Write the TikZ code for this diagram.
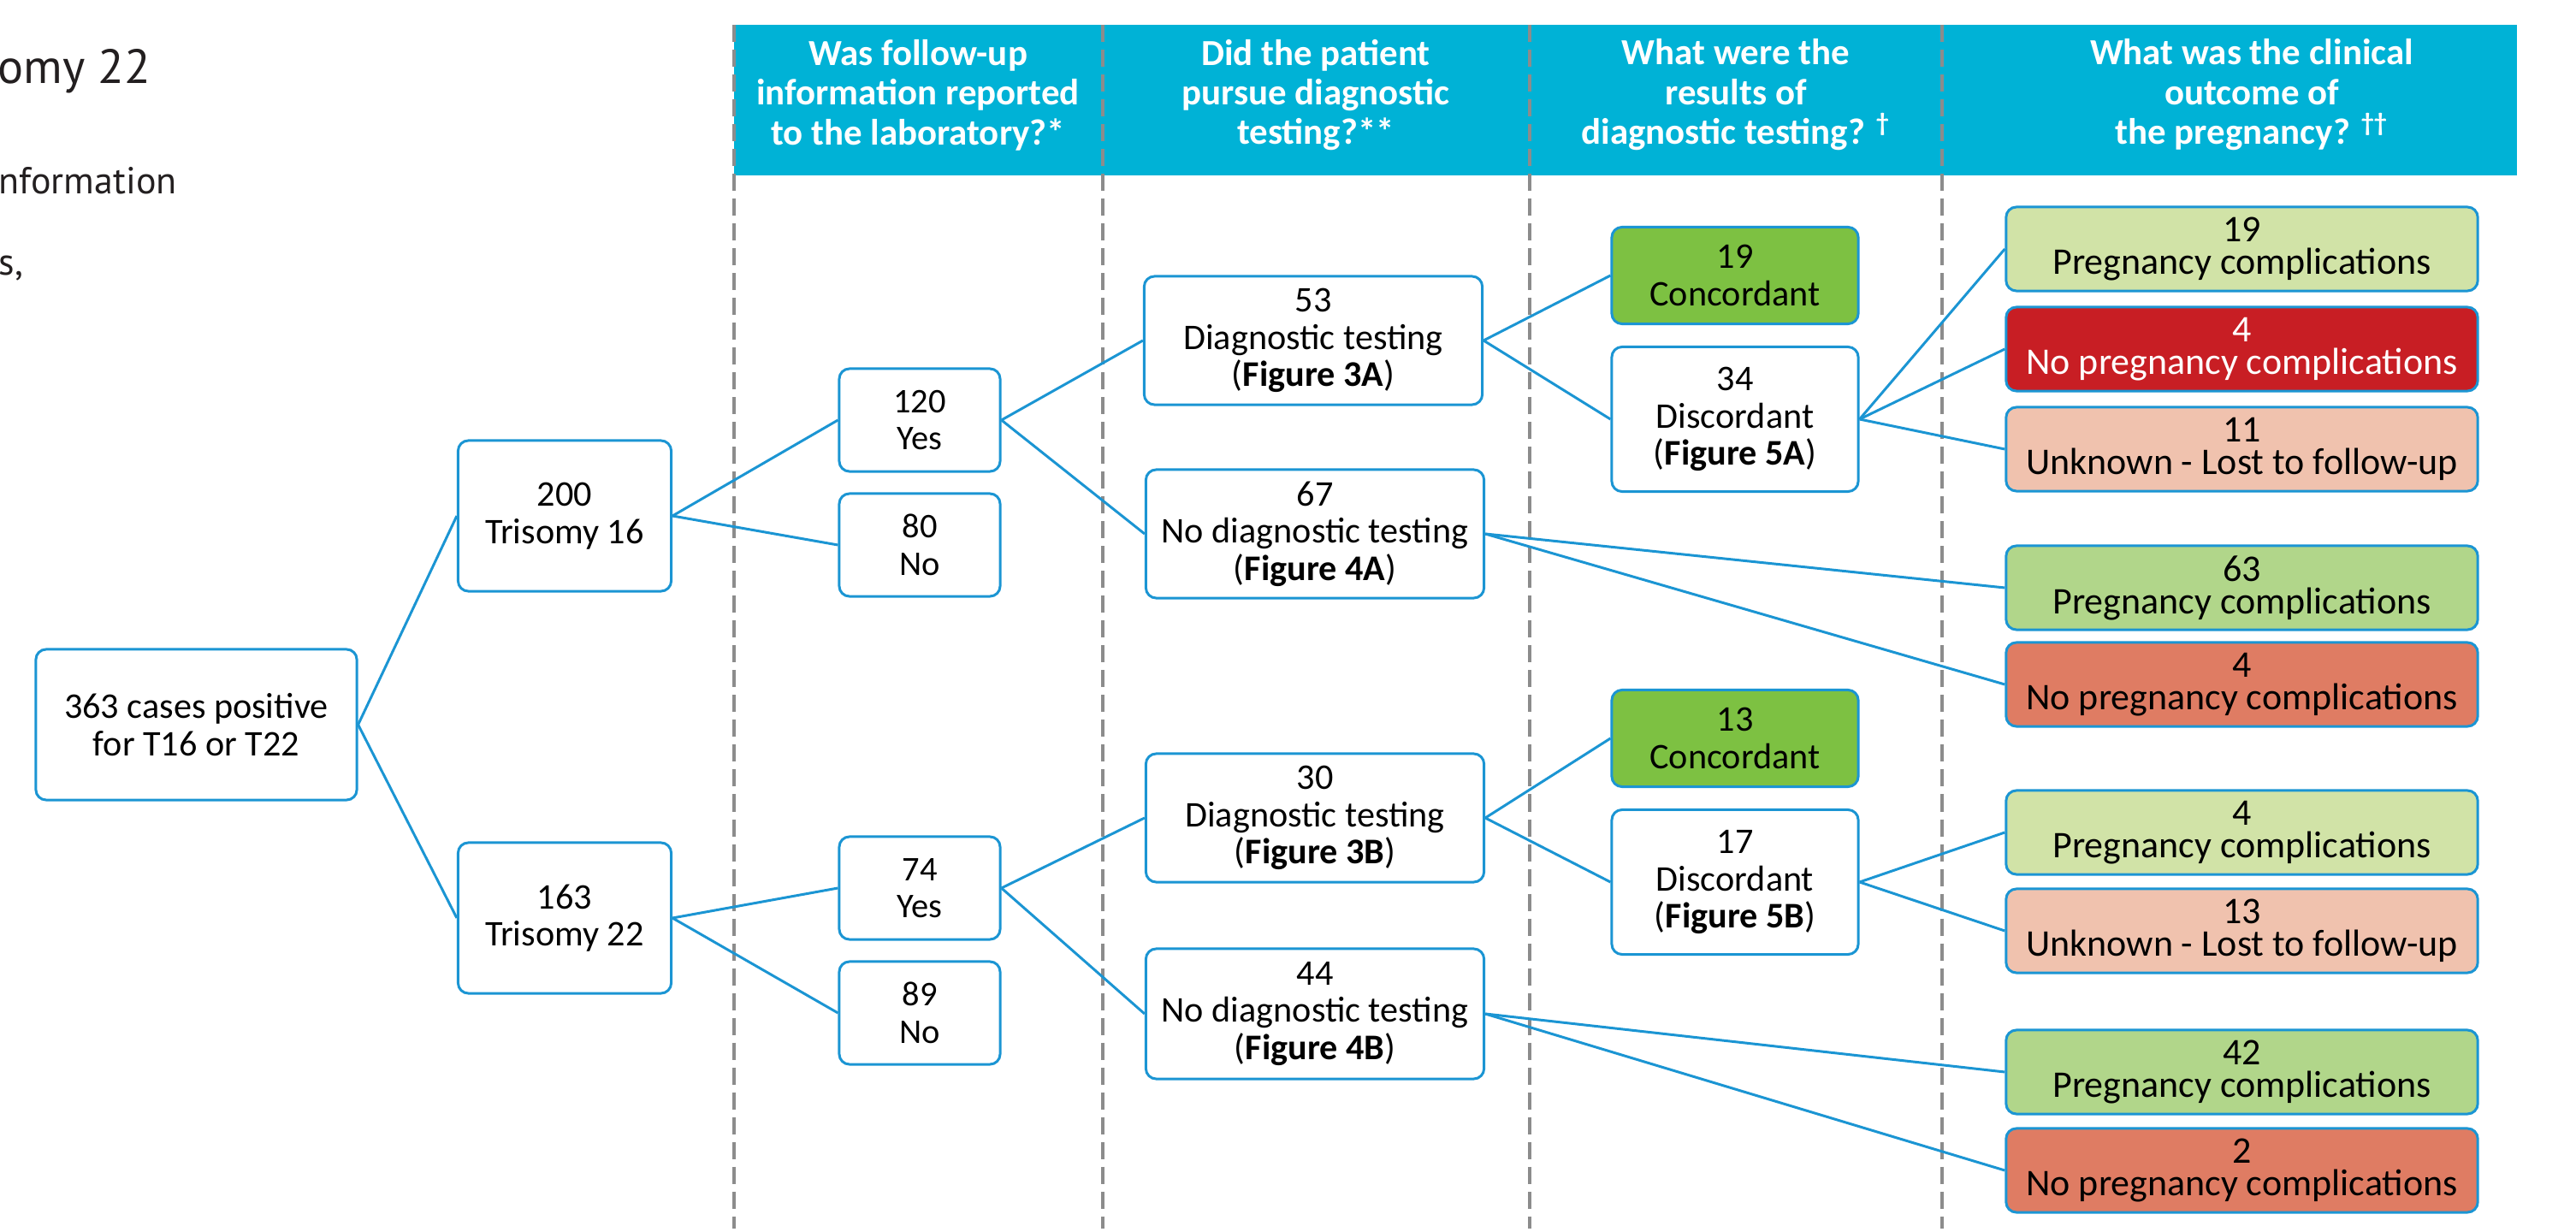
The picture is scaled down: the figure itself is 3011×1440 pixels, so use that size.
\documentclass[tikz,border=0pt]{standalone}
\usepackage{fontspec}
\setmainfont{Carlito}
\newfontfamily\titlefont{PT Sans}
\definecolor{headcyan}{RGB}{0,178,214}
\definecolor{boxblue}{RGB}{27,149,211}
\definecolor{sepgray}{RGB}{140,140,140}
\definecolor{titlegray}{RGB}{35,31,32}
\definecolor{concgreen}{RGB}{125,193,66}
\definecolor{palegreen}{RGB}{209,227,167}
\definecolor{midgreen}{RGB}{177,214,138}
\definecolor{darkred}{RGB}{200,30,36}
\definecolor{salmon}{RGB}{240,194,174}
\definecolor{brick}{RGB}{223,124,99}

\begin{document}
\begin{tikzpicture}[x=0.01cm,y=-0.01cm,
  box/.style={draw=boxblue,line width=0.85pt,rounded corners=1.2mm,fill=white,align=center,inner sep=0pt,font=\fontsize{12}{12.4}\selectfont},
  ynbox/.style={box,minimum width=1.88cm,minimum height=1.2cm,font=\fontsize{11.5}{12.4}\selectfont},
  outbox/.style={box,minimum width=5.51cm,minimum height=0.98cm,font=\fontsize{12.5}{10.8}\selectfont},
  link/.style={draw=boxblue,line width=0.85pt},
  colsep/.style={draw=sepgray,line width=0.9pt,dash pattern=on 0.2cm off 0.09cm},
  head/.style={text=white,align=center,font=\bfseries\fontsize{12.2}{13.2}\selectfont}]
\useasboundingbox (0,0) rectangle (3011,1440);
\fill[headcyan] (858,29) rectangle (2942,205);
\foreach \x in {858,1289,1788,2270}
  \draw[colsep] (\x,29) -- (\x,1436);

\node[anchor=base west,inner sep=0pt,text=titlegray,font=\titlefont\fontsize{16}{19}\selectfont] (ttl) at (-3,98) {omy 22};
\node[anchor=base west,inner sep=0pt,text=titlegray,font=\titlefont\fontsize{12.5}{15}\selectfont] (sub1) at (-2,227) {nformation};
\node[anchor=base west,inner sep=0pt,text=titlegray,font=\titlefont\fontsize{12.5}{15}\selectfont] (sub2) at (-2,322) {s,};

\node[head] (h1) at (1073,111) {Was follow-up\\information reported\\to the laboratory?*};
\node[head] (h2) at (1538,111) {Did the patient\\pursue diagnostic\\testing?**};
\node[head] (h3) at (2029,111) {What were the\\results of\\diagnostic testing? \textsuperscript{\textdagger}};
\node[head] (h4) at (2632,111) {What was the clinical\\outcome of\\the pregnancy? \textsuperscript{\textdagger\textdagger}};

\node[box,minimum width=3.75cm,minimum height=1.76cm] (root) at (229.5,847) {363 cases positive\\for T16 or T22};
\node[box,minimum width=2.49cm,minimum height=1.76cm] (t16) at (660,603) {200\\Trisomy 16};
\node[box,minimum width=2.49cm,minimum height=1.76cm] (t22) at (660,1073) {163\\Trisomy 22};

\node[ynbox] (yesA) at (1075,491) {120\\Yes};
\node[ynbox] (noA) at (1075,637) {80\\No};
\node[ynbox] (yesB) at (1075,1038) {74\\Yes};
\node[ynbox] (noB) at (1075,1184) {89\\No};

\node[box,minimum width=3.95cm,minimum height=1.5cm] (dtA) at (1535,398) {53\\Diagnostic testing\\(\textbf{Figure 3A})};
\node[box,minimum width=3.95cm,minimum height=1.5cm] (ndtA) at (1537,624) {67\\No diagnostic testing\\(\textbf{Figure 4A})};
\node[box,minimum width=3.95cm,minimum height=1.5cm] (dtB) at (1537,956) {30\\Diagnostic testing\\(\textbf{Figure 3B})};
\node[box,minimum width=3.95cm,minimum height=1.52cm] (ndtB) at (1537,1185) {44\\No diagnostic testing\\(\textbf{Figure 4B})};

\node[box,fill=concgreen,minimum width=2.88cm,minimum height=1.13cm] (concA) at (2028,322) {19\\Concordant};
\node[box,minimum width=2.88cm,minimum height=1.69cm] (discA) at (2028,490) {34\\Discordant\\(\textbf{Figure 5A})};
\node[box,fill=concgreen,minimum width=2.88cm,minimum height=1.13cm] (concB) at (2028,863) {13\\Concordant};
\node[box,minimum width=2.88cm,minimum height=1.69cm] (discB) at (2028,1031) {17\\Discordant\\(\textbf{Figure 5B})};

\node[outbox,fill=palegreen] (oA1) at (2620.5,291) {19\\Pregnancy complications};
\node[outbox,fill=darkred,text=white] (oA2) at (2620.5,408) {4\\No pregnancy complications};
\node[outbox,fill=salmon] (oA3) at (2620.5,525) {11\\Unknown - Lost to follow-up};
\node[outbox,fill=midgreen] (oA4) at (2620.5,687) {63\\Pregnancy complications};
\node[outbox,fill=brick] (oA5) at (2620.5,800) {4\\No pregnancy complications};
\node[outbox,fill=palegreen] (oB1) at (2620.5,973) {4\\Pregnancy complications};
\node[outbox,fill=salmon] (oB2) at (2620.5,1088) {13\\Unknown - Lost to follow-up};
\node[outbox,fill=midgreen] (oB3) at (2620.5,1253) {42\\Pregnancy complications};
\node[outbox,fill=brick] (oB4) at (2620.5,1368) {2\\No pregnancy complications};

\draw[link] (root.east) -- (t16.west);
\draw[link] (root.east) -- (t22.west);
\draw[link] (t16.east) -- (yesA.west);
\draw[link] (t16.east) -- (noA.west);
\draw[link] (t22.east) -- (yesB.west);
\draw[link] (t22.east) -- (noB.west);
\draw[link] (yesA.east) -- (dtA.west);
\draw[link] (yesA.east) -- (ndtA.west);
\draw[link] (yesB.east) -- (dtB.west);
\draw[link] (yesB.east) -- (ndtB.west);
\draw[link] (dtA.east) -- (concA.west);
\draw[link] (dtA.east) -- (discA.west);
\draw[link] (dtB.east) -- (concB.west);
\draw[link] (dtB.east) -- (discB.west);
\draw[link] (discA.east) -- (oA1.west);
\draw[link] (discA.east) -- (oA2.west);
\draw[link] (discA.east) -- (oA3.west);
\draw[link] (ndtA.east) -- (oA4.west);
\draw[link] (ndtA.east) -- (oA5.west);
\draw[link] (discB.east) -- (oB1.west);
\draw[link] (discB.east) -- (oB2.west);
\draw[link] (ndtB.east) -- (oB3.west);
\draw[link] (ndtB.east) -- (oB4.west);
\end{tikzpicture}
\end{document}
